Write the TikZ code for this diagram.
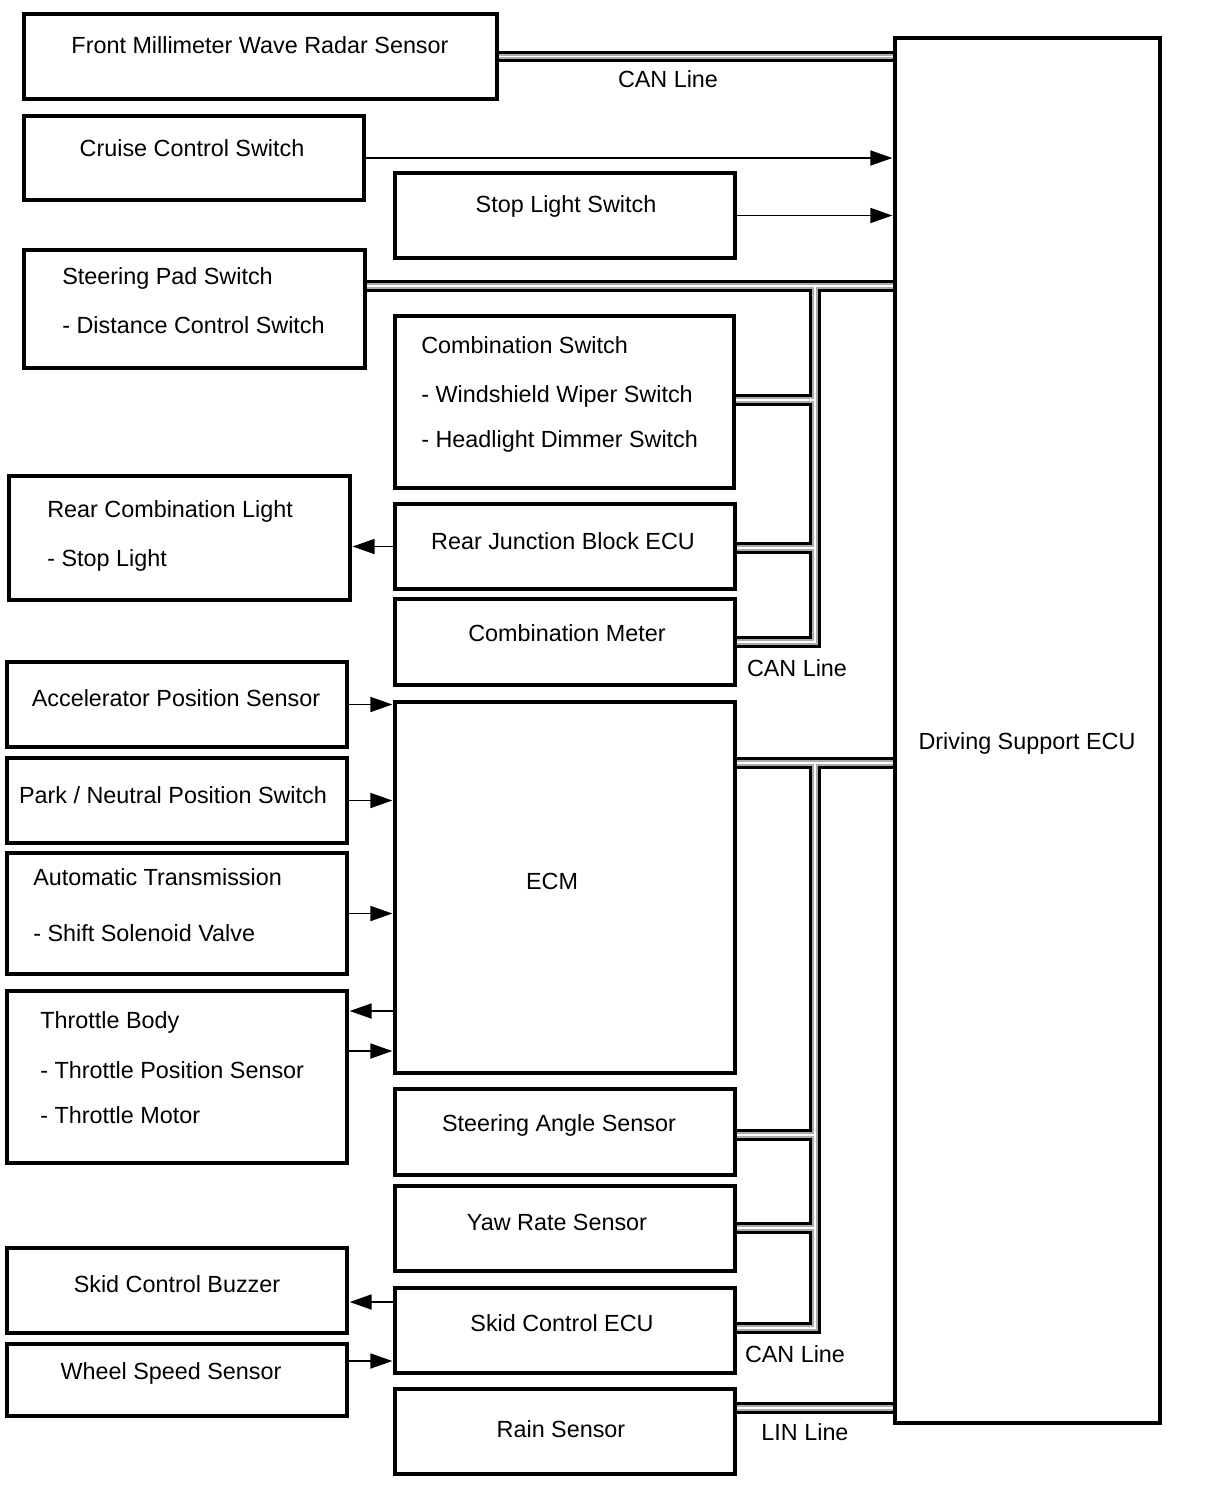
\documentclass[tikz,border=0pt]{standalone}
\usepackage{fontspec}
\setmainfont{Liberation Sans}
\usetikzlibrary{arrows.meta,fit,calc}
\tikzset{
  box/.style={draw,line width=1.8pt,inner sep=0pt},
  lbl/.style={font=\fontsize{13.3}{16}\selectfont,text height=.72em,text depth=0pt,inner sep=0pt,yshift=-.04cm},
  arr/.style={line width=1.1pt,-{Triangle[length=12.5pt,width=8.5pt]},shorten >=.6pt},
  busa/.style={line width=6.6pt,draw=black},
  busb/.style={line width=3pt,draw=gray!65},
  busc/.style={line width=1pt,draw=white}
}
\begin{document}
\begin{tikzpicture}[x=0.02cm,y=-0.02cm]
\useasboundingbox(0,0)rectangle(1210,1498);
%boxes
\node[box,fit={(24,14)(497,99)}](radar){};
\node[box,fit={(24,116)(364,200)}](cruise){};
\node[box,fit={(395,173)(735,258)}](stop){};
\node[box,fit={(24,250)(365,368)}](pad){};
\node[box,fit={(395,316)(734,488)}](cswitch){};
\node[box,fit={(9,476)(350,600)}](rcl){};
\node[box,fit={(395,504)(735,589)}](rjb){};
\node[box,fit={(395,599)(735,685)}](meter){};
\node[box,fit={(7,662)(347,747)}](acc){};
\node[box,fit={(7,758)(347,843)}](park){};
\node[box,fit={(7,853)(347,974)}](trans){};
\node[box,fit={(7,991)(347,1163)}](tb){};
\node[box,fit={(395,702)(735,1073)}](ecm){};
\node[box,fit={(395,1089)(735,1175)}](steer){};
\node[box,fit={(395,1186)(735,1271)}](yaw){};
\node[box,fit={(7,1248)(347,1333)}](buzzer){};
\node[box,fit={(395,1288)(735,1373)}](skid){};
\node[box,fit={(7,1344)(347,1416)}](wheel){};
\node[box,fit={(395,1389)(735,1474)}](rain){};
\node[box,fit={(895,38)(1160,1423)}](dsecu){};
%bus junctions
\coordinate(j1)at(815,286);
\coordinate(b1)at(815,400);
\coordinate(b2)at(815,548);
\coordinate(b3)at(815,642);
\coordinate(j2)at(815,763);
\coordinate(c1)at(815,1135);
\coordinate(c2)at(815,1228);
\coordinate(c3)at(815,1328);
\coordinate(l1)at(815,1408);
%CAN and LIN lines
\foreach \s in {busa,busb,busc}{
\draw[\s](radar.east)--(radar.east -| dsecu.west);
\draw[\s](pad.east |- j1)--(j1 -| dsecu.west);
\draw[\s](j1)--(b3)--(meter.east |- b3);
\draw[\s](cswitch.east |- b1)--(b1);
\draw[\s](rjb.east |- b2)--(b2);
\draw[\s](ecm.east |- j2)--(j2 -| dsecu.west);
\draw[\s](j2)--(c3)--(skid.east |- c3);
\draw[\s](steer.east |- c1)--(c1);
\draw[\s](yaw.east |- c2)--(c2);
\draw[\s](rain.east |- l1)--(l1 -| dsecu.west);
}
%signal lines
\coordinate(t1)at(0,1011);
\coordinate(t2)at(0,1051);
\coordinate(s1)at(0,1302);
\coordinate(s2)at(0,1361);
\draw[arr](cruise.east)--(cruise.east -| dsecu.west);
\draw[arr](stop.east)--(stop.east -| dsecu.west);
\draw[arr](rjb.west)--(rjb.west -| rcl.east);
\draw[arr](acc.east)--(acc.east -| ecm.west);
\draw[arr](park.east)--(park.east -| ecm.west);
\draw[arr](trans.east)--(trans.east -| ecm.west);
\draw[arr](ecm.west |- t1)--(tb.east |- t1);
\draw[arr](tb.east |- t2)--(ecm.west |- t2);
\draw[arr](skid.west |- s1)--(buzzer.east |- s1);
\draw[arr](wheel.east |- s2)--(skid.west |- s2);
%labels
\node[lbl]at(260,45){Front Millimeter Wave Radar Sensor};
\node[lbl]at(192,148){Cruise Control Switch};
\node[lbl]at(566,204){Stop Light Switch};
\node[lbl,anchor=west]at(62,276){Steering Pad Switch};
\node[lbl,anchor=west]at(62,325){- Distance Control Switch};
\node[lbl,anchor=west]at(421,345){Combination Switch};
\node[lbl,anchor=west]at(421,394){- Windshield Wiper Switch};
\node[lbl,anchor=west]at(421,439){- Headlight Dimmer Switch};
\node[lbl,anchor=west]at(47,509){Rear Combination Light};
\node[lbl,anchor=west]at(47,558){- Stop Light};
\node[lbl]at(563,541){Rear Junction Block ECU};
\node[lbl]at(567,633){Combination Meter};
\node[lbl]at(176,698){Accelerator Position Sensor};
\node[lbl]at(173,795){Park / Neutral Position Switch};
\node[lbl,anchor=west]at(33,877){Automatic Transmission};
\node[lbl,anchor=west]at(33,933){- Shift Solenoid Valve};
\node[lbl,anchor=west]at(40,1020){Throttle Body};
\node[lbl,anchor=west]at(40,1070){- Throttle Position Sensor};
\node[lbl,anchor=west]at(40,1115){- Throttle Motor};
\node[lbl]at(552,881){ECM};
\node[lbl]at(559,1123){Steering Angle Sensor};
\node[lbl]at(557,1222){Yaw Rate Sensor};
\node[lbl]at(177,1284){Skid Control Buzzer};
\node[lbl]at(562,1323){Skid Control ECU};
\node[lbl]at(171,1371){Wheel Speed Sensor};
\node[lbl]at(561,1429){Rain Sensor};
\node[lbl]at(1027,741){Driving Support ECU};
\node[lbl]at(668,79){CAN Line};
\node[lbl]at(797,668){CAN Line};
\node[lbl]at(795,1354){CAN Line};
\node[lbl]at(805,1432){LIN Line};
\end{tikzpicture}
\end{document}
